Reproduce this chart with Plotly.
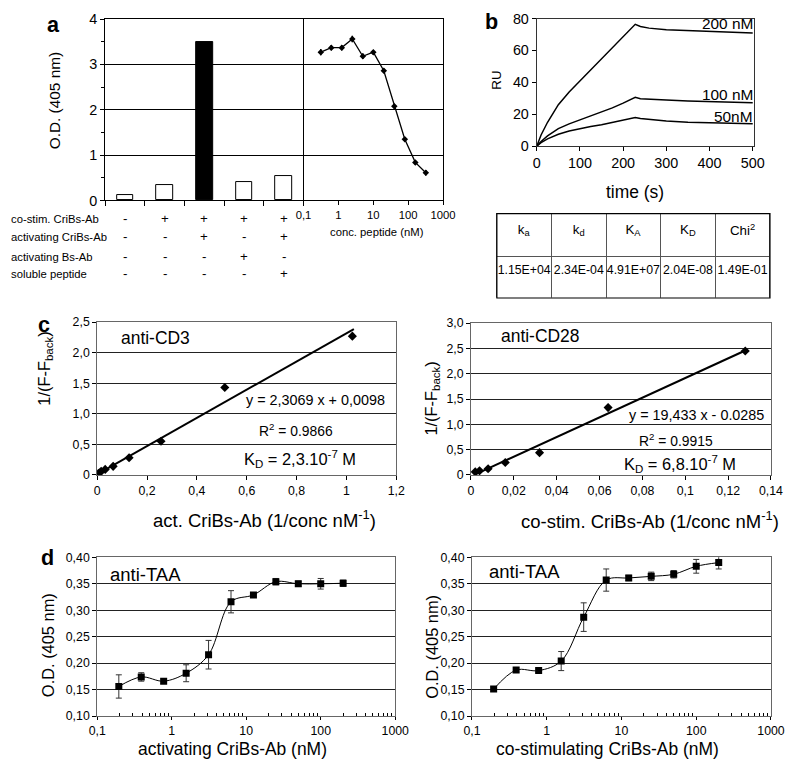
import plotly.graph_objects as go

W, H = 787, 762
FONT = "Liberation Sans, Arial, sans-serif"
# the page is photographed slightly shrunk and shifted; compensate
O, S = 8.5, 0.974

# ---------------- data ----------------
# panel a - bars
bar_cond = ["c1", "c2", "c3", "c4", "c5"]
bar_od = [0.13, 0.33, 3.50, 0.40, 0.53]
row_labels = ["co-stim. CriBs-Ab", "activating CriBs-Ab", "activating Bs-Ab", "soluble peptide"]
row_signs = [
    ["-", "+", "+", "+", "+"],
    ["-", "-", "+", "-", "+"],
    ["-", "-", "-", "+", "-"],
    ["-", "-", "-", "-", "+"],
]
# panel a - peptide competition
peptide_nM = [0.3125, 0.625, 1.25, 2.5, 5, 10, 20, 40, 80, 160, 320]
peptide_od = [3.27, 3.37, 3.37, 3.56, 3.18, 3.27, 2.86, 2.08, 1.35, 0.84, 0.61]
peptide_err = [0.07, 0.06, 0.06, 0.07, 0.06, 0.05, 0.05, 0.05, 0.05, 0.05, 0.06]
log_ticks = [0.1, 1, 10, 100, 1000]
log_ticktext = ["0,1", "1", "10", "100", "1000"]

# panel b - sensorgrams
t_s = [0, 10, 25, 50, 75, 100, 125, 150, 175, 200, 228, 240, 260, 300, 350, 400, 450, 500]
ru_200 = [0, 7, 15, 26, 34, 41, 48, 55, 62, 69, 76.4, 75, 74, 73, 72.4, 72, 71.5, 71]
ru_100 = [0, 3, 6.5, 11, 14, 16.5, 19, 21.5, 24, 27, 30.6, 29.8, 29.4, 28.9, 28.3, 27.8, 27.5, 27.2]
ru_50 = [0, 2.2, 4.6, 7.5, 9.5, 11, 12.3, 13.5, 14.8, 16.2, 18, 17.3, 16.7, 15.8, 15, 14.6, 14.3, 14.1]
curve_names = ["200 nM", "100 nM", "50nM"]
kin_headers = ["k<sub>a</sub>", "k<sub>d</sub>", "K<sub>A</sub>", "K<sub>D</sub>", "Chi<sup>2</sup>"]
kin_values = ["1.15E+04", "2.34E-04", "4.91E+07", "2.04E-08", "1.49E-01"]

# panel c - double reciprocal plots
cd3_x = [1.024, 0.512, 0.256, 0.128, 0.064, 0.032, 0.016, 0.008, 0.004]
cd3_y = [2.27, 1.43, 0.55, 0.28, 0.14, 0.09, 0.06, 0.03, 0.02]
cd3_slope, cd3_icpt = 2.3069, 0.0098
cd3_fit_x = [0, 1.03]
cd28_x = [0.128, 0.064, 0.032, 0.016, 0.008, 0.004, 0.002]
cd28_y = [2.45, 1.33, 0.44, 0.245, 0.12, 0.08, 0.06]
cd28_slope, cd28_icpt = 19.433, -0.0285
cd28_fit_x = [0.0015, 0.128]
cd3_xticks = [0, 0.2, 0.4, 0.6, 0.8, 1.0, 1.2]
cd3_xtext = ["0", "0,2", "0,4", "0,6", "0,8", "1", "1,2"]
cd3_yticks = [0, 0.5, 1.0, 1.5, 2.0, 2.5]
cd3_ytext = ["0", "0,5", "1,0", "1,5", "2,0", "2,5"]
cd28_xticks = [0, 0.02, 0.04, 0.06, 0.08, 0.1, 0.12, 0.14]
cd28_xtext = ["0", "0,02", "0,04", "0,06", "0,08", "0,1", "0,12", "0,14"]
cd28_yticks = [0, 0.5, 1.0, 1.5, 2.0, 2.5, 3.0]
cd28_ytext = ["0", "0,5", "1,0", "1,5", "2,0", "2,5", "3,0"]

# panel d - titrations
conc_nM = [0.195, 0.39, 0.78, 1.5625, 3.125, 6.25, 12.5, 25, 50, 100, 200]
act_od = [0.156, 0.174, 0.166, 0.181, 0.216, 0.316, 0.329, 0.354, 0.350, 0.350, 0.351]
act_err = [0.022, 0.008, 0.004, 0.016, 0.027, 0.021, 0.004, 0.006, 0.005, 0.010, 0.006]
cos_od = [0.151, 0.187, 0.186, 0.204, 0.287, 0.357, 0.361, 0.364, 0.368, 0.383, 0.390]
cos_err = [0.004, 0.004, 0.003, 0.018, 0.027, 0.021, 0.005, 0.008, 0.007, 0.013, 0.012]
od_ticks = [0.10, 0.15, 0.20, 0.25, 0.30, 0.35, 0.40]
od_ticktext = ["0,10", "0,15", "0,20", "0,25", "0,30", "0,35", "0,40"]


def px(x):
    return (x - O) / S / W


def py(y):
    return 1 - (y - O) / S / H


def fs(n):
    return n / S


def dom_x(a, b):
    return [max(0, px(a)), min(1, px(b))]


def dom_y(top, bottom):
    return [max(0, py(bottom)), min(1, py(top))]


fig = go.Figure()

# ---- panel a
fig.add_trace(go.Bar(
    x=bar_cond, y=bar_od, width=0.42,
    marker=dict(color=["black" if v == max(bar_od) else "white" for v in bar_od],
                line=dict(color="black", width=1)),
    xaxis="x", yaxis="y"))
fig.add_trace(go.Scatter(
    x=peptide_nM, y=peptide_od, mode="lines+markers",
    line=dict(color="black", width=1.3),
    marker=dict(symbol="diamond", size=5, color="black"),
    error_y=dict(type="data", array=peptide_err, color="black", thickness=1.5, width=0),
    xaxis="x2", yaxis="y2"))

# ---- panel b
for ru in [ru_200, ru_100, ru_50]:
    fig.add_trace(go.Scatter(x=t_s, y=ru, mode="lines", line=dict(color="black", width=1.5),
                             xaxis="x3", yaxis="y3"))

fig.add_trace(go.Table(
    domain=dict(x=dom_x(498, 772), y=dom_y(213, 297)),
    columnwidth=[1] * 5,
    header=dict(values=kin_headers, height=43, align="center",
                fill_color="white", line=dict(color="#555", width=1),
                font=dict(family=FONT, size=fs(13), color="black")),
    cells=dict(values=[[v] for v in kin_values], height=42, align="center",
               fill_color="white", line=dict(color="#555", width=1),
               font=dict(family=FONT, size=fs(12), color="black")),
))

# ---- panel c
fig.add_trace(go.Scatter(x=cd3_fit_x, y=[cd3_slope * x + cd3_icpt for x in cd3_fit_x], mode="lines",
                         line=dict(color="black", width=2), xaxis="x4", yaxis="y4"))
fig.add_trace(go.Scatter(x=cd3_x, y=cd3_y, mode="markers",
                         marker=dict(symbol="diamond", size=7, color="black"), xaxis="x4", yaxis="y4"))
fig.add_trace(go.Scatter(x=cd28_fit_x, y=[cd28_slope * x + cd28_icpt for x in cd28_fit_x], mode="lines",
                         line=dict(color="black", width=2), xaxis="x5", yaxis="y5"))
fig.add_trace(go.Scatter(x=cd28_x, y=cd28_y, mode="markers",
                         marker=dict(symbol="diamond", size=7, color="black"), xaxis="x5", yaxis="y5"))

# ---- panel d
for od, err, xa, ya in [(act_od, act_err, "x6", "y6"), (cos_od, cos_err, "x7", "y7")]:
    fig.add_trace(go.Scatter(
        x=conc_nM, y=od, mode="lines+markers",
        line=dict(color="black", width=1, shape="spline", smoothing=1),
        marker=dict(symbol="square", size=7, color="black"),
        error_y=dict(type="data", array=err, color="#333", thickness=1, width=3),
        xaxis=xa, yaxis=ya))

tick_font = dict(family=FONT, size=fs(12), color="black")
minor_log = dict(ticks="inside", ticklen=3, tickcolor="black",
                 tickmode="array", tickvals=[m * 10 ** e for e in range(-1, 3) for m in range(2, 10)])


def lin_axis(**kw):
    base = dict(showline=True, linecolor="black", linewidth=1, mirror=True, ticks="outside",
                ticklen=4, tickcolor="black", showgrid=False, zeroline=False, tickfont=tick_font,
                tickmode="array")
    base.update(kw)
    return base


fig.update_layout(
    width=W, height=H, margin=dict(l=0, r=0, t=0, b=0),
    paper_bgcolor="white", plot_bgcolor="white", showlegend=False,
    font=dict(family=FONT, size=12, color="black"),
    bargap=0,
    # a
    xaxis=dict(domain=dom_x(105, 304), anchor="y", type="category", range=[-0.5, 4.5],
               showline=True, linecolor="black", mirror=True, ticks="outside", ticklen=5,
               tickson="boundaries", tickcolor="black", showticklabels=False, showgrid=False),
    yaxis=dict(domain=dom_y(19.5, 200), anchor="x", range=[0, 4],
               **lin_axis(tickvals=[0, 1, 2, 3, 4], tickfont=dict(family=FONT, size=fs(14)),
                          showgrid=True, gridcolor="black", gridwidth=1,
                          minor=dict(ticks="outside", ticklen=3, dtick=0.5, tickcolor="black"),
                          mirror=False)),
    xaxis2=dict(domain=dom_x(304, 444), anchor="y2", type="log", range=[-1, 3],
                **lin_axis(tickvals=log_ticks, ticktext=log_ticktext, tickfont=dict(family=FONT, size=fs(11)))),
    yaxis2=dict(domain=dom_y(19.5, 200), anchor="x2", range=[0, 4], showline=True, linecolor="black",
                mirror=True, showgrid=True, gridcolor="black", gridwidth=1, showticklabels=False,
                ticks="", zeroline=False, tickmode="array", tickvals=[0, 1, 2, 3, 4]),
    # b
    xaxis3=dict(domain=dom_x(538, 756), anchor="y3", range=[0, 503],
                **lin_axis(tickvals=[0, 100, 200, 300, 400, 500], tickfont=dict(family=FONT, size=fs(14)),
                           linecolor="#333")),
    yaxis3=dict(domain=dom_y(19, 146), anchor="x3", range=[0, 80],
                **lin_axis(tickvals=[0, 20, 40, 60, 80], tickfont=dict(family=FONT, size=fs(14)),
                           linecolor="#333")),
    # c
    xaxis4=dict(domain=dom_x(97, 397), anchor="y4", range=[0, 1.2],
                **lin_axis(tickvals=cd3_xticks, ticktext=cd3_xtext, linecolor="#666")),
    yaxis4=dict(domain=dom_y(321, 473), anchor="x4", range=[0, 2.5],
                **lin_axis(tickvals=cd3_yticks, ticktext=cd3_ytext, linecolor="#666",
                           showgrid=True, gridcolor="#222", gridwidth=1)),
    xaxis5=dict(domain=dom_x(472, 773), anchor="y5", range=[0, 0.14],
                **lin_axis(tickvals=cd28_xticks, ticktext=cd28_xtext, linecolor="#666")),
    yaxis5=dict(domain=dom_y(322, 473), anchor="x5", range=[0, 3.0],
                **lin_axis(tickvals=cd28_yticks, ticktext=cd28_ytext, linecolor="#666",
                           showgrid=True, gridcolor="#222", gridwidth=1)),
    # d
    xaxis6=dict(domain=dom_x(97, 396), anchor="y6", type="log", range=[-1, 3],
                **lin_axis(tickvals=log_ticks, ticktext=log_ticktext, linecolor="#666", minor=minor_log,
                           ticklen=3)),
    yaxis6=dict(domain=dom_y(555, 713), anchor="x6", range=[0.10, 0.40],
                **lin_axis(tickvals=od_ticks, ticktext=od_ticktext, linecolor="#666",
                           showgrid=True, gridcolor="#222", gridwidth=1)),
    xaxis7=dict(domain=dom_x(473, 773), anchor="y7", type="log", range=[-1, 3],
                **lin_axis(tickvals=log_ticks, ticktext=log_ticktext, linecolor="#666", minor=minor_log,
                           ticklen=3)),
    yaxis7=dict(domain=dom_y(555, 713), anchor="x7", range=[0.10, 0.40],
                **lin_axis(tickvals=od_ticks, ticktext=od_ticktext, linecolor="#666",
                           showgrid=True, gridcolor="#222", gridwidth=1)),
)

# outer frame of the kinetics table
fig.add_shape(type="rect", xref="paper", yref="paper",
              x0=px(498), x1=px(772), y0=py(297), y1=py(213), line=dict(color="black", width=1.2))

ann = []


def text(x, y, s, size=12, bold=False, angle=0, xanchor="center"):
    ann.append(dict(x=px(x), y=py(y), xref="paper", yref="paper", text=f"<b>{s}</b>" if bold else s,
                    showarrow=False, textangle=angle, xanchor=xanchor, yanchor="middle",
                    font=dict(family=FONT, size=fs(size), color="black")))


# panel letters
text(53, 25, "a", 21, bold=True)
text(493, 22, "b", 21, bold=True)
text(44, 323, "c", 21, bold=True)
text(47, 555, "d", 21, bold=True)

# panel a
text(55, 100, "O.D. (405 nm)", 15, angle=-90)
text(378, 231, "conc. peptide (nM)", 11)
row_y = [218, 236, 256, 273]
for label, signs, yy in zip(row_labels, row_signs, row_y):
    text(O, yy, label, 11, xanchor="left")
    for c, s in zip(bar_cond, signs):
        ann.append(dict(x=c, xref="x", y=py(yy), yref="paper", text=s, showarrow=False,
                        xanchor="center", yanchor="middle",
                        font=dict(family=FONT, size=fs(13), color="black")))

# panel b
text(498, 80, "RU", 13, angle=-90)
text(637, 192, "time (s)", 17)
for name, ly in zip(curve_names, [24, 95, 116]):
    text(757, ly, name, 15, xanchor="right")

# panel c
text(45, 367, "1/(F-F<sub>back</sub>)", 16, angle=-90)
text(433, 397, "1/(F-F<sub>back</sub>)", 16, angle=-90)
text(265, 517, "act. CriBs-Ab (1/conc nM<sup>-1</sup>)", 18)
text(652, 518, "co-stim. CriBs-Ab (1/conc nM<sup>-1</sup>)", 18)
text(155, 337, "anti-CD3", 17)
text(316, 398, "y = 2,3069 x + 0,0098", 14)
text(296, 428, "R<sup>2</sup> = 0.9866", 13.5)
text(300, 457, "K<sub>D</sub> = 2,3.10<sup>-7</sup> M", 16)
text(542, 335, "anti-CD28", 17)
text(698, 413, "y = 19,433 x - 0.0285", 14)
text(678, 438, "R<sup>2</sup> = 0.9915", 13.5)
text(682, 462, "K<sub>D</sub> = 6,8.10<sup>-7</sup> M", 16)

# panel d
text(47, 642, "O.D. (405 nm)", 16, angle=-90)
text(433, 644, "O.D. (405 nm)", 16, angle=-90)
text(233, 746, "activating CriBs-Ab (nM)", 17)
text(609, 746, "co-stimulating CriBs-Ab (nM)", 17)
text(145, 572, "anti-TAA", 18)
text(526, 569, "anti-TAA", 18)

fig.update_layout(annotations=ann)
fig.write_html("out.html", config={"displayModeBar": False},
               post_script="document.body.style.margin='0';document.body.style.overflow='hidden';")
